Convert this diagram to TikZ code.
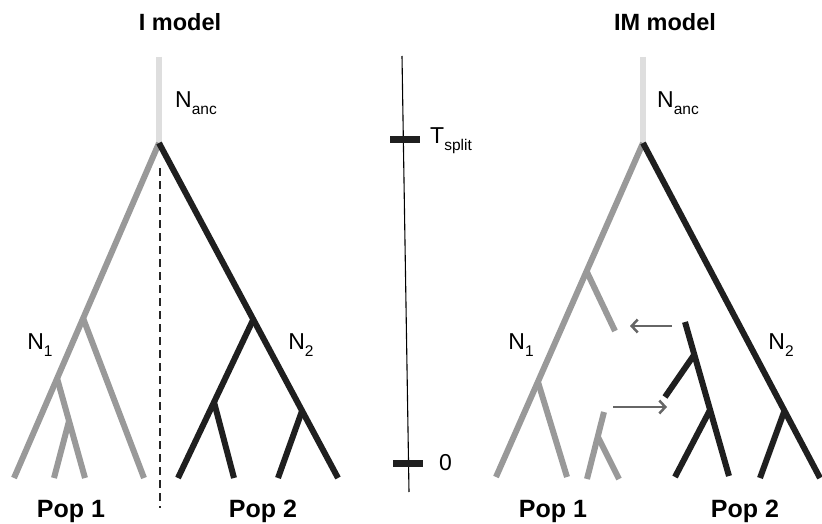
\documentclass[tikz,border=0pt]{standalone}
\usepackage{fontspec}
\setmainfont{Liberation Sans}
\usetikzlibrary{arrows.meta}
\newcommand{\lowtxt}[1]{\raisebox{-0.55ex}{\fontsize{15.5}{16}\selectfont #1}}
\tikzset{
	grey branch/.style={line width=6pt, draw=black!40},
	dark branch/.style={line width=6pt, draw=black!88},
	anc branch/.style={line width=6pt, draw=black!13},
	split line/.style={line width=2.2pt, dash pattern=on 8pt off 5pt, draw=black!85},
	time axis/.style={line width=1.1pt, draw=black},
	tickbar/.style={rectangle, fill=black!88, minimum width=30pt, minimum height=7pt, inner sep=0pt},
	migration/.style={-{Straight Barb[length=6pt,width=13pt]}, line width=2.5pt, draw=black!60},
	title/.style={font=\fontsize{23.5}{27}\selectfont\bfseries, inner sep=0pt},
	pop/.style={font=\fontsize{25}{29}\selectfont\bfseries, inner sep=0pt},
	popsize/.style={font=\fontsize{23}{27}\selectfont, inner sep=0pt}
}

\begin{document}
\begin{tikzpicture}[x=1pt,y=-1pt]
	\useasboundingbox (0,0) rectangle (822,524);

	%% I model
	\coordinate (Itop)   at (159,57);
	\coordinate (Isplit) at (159,143);
	\coordinate (Ia)     at (14,478);
	\coordinate (Ib)     at (54,478);
	\coordinate (Ic)     at (85,478);
	\coordinate (Id)     at (144,478);
	\coordinate (Ie)     at (178,478);
	\coordinate (If)     at (234,478);
	\coordinate (Ig)     at (278,478);
	\coordinate (Ih)     at (338,478);
	\coordinate (Ig1)    at (83,318);
	\coordinate (Ig2)    at (57,378);
	\coordinate (Ig3)    at (69,421);
	\coordinate (Ik1)    at (253,320);
	\coordinate (Ik2)    at (302,411);
	\coordinate (Ik3)    at (214,402);

	\draw[anc branch] (Itop) -- (Isplit);
	\draw[grey branch] (Ig3) -- (Ib);
	\draw[grey branch] (Ig2) -- (Ic);
	\draw[grey branch] (Ig1) -- (Id);
	\draw[grey branch] (Isplit) -- (Ia);
	\draw[dark branch] (Ik3) -- (If);
	\draw[dark branch] (Ik1) -- (Ie);
	\draw[dark branch] (Ik2) -- (Ig);
	\draw[dark branch] (Isplit) -- (Ih);

	\coordinate (Idash1) at (160,168);
	\coordinate (Idash2) at (160,508);
	\draw[split line] (Idash1) -- (Idash2);

	\node[title] (Ititle) at (180,22) {I model};
	\node[popsize, anchor=west] (Ianc) at (175,103) {N\lowtxt{anc}};
	\node[popsize] (IN1) at (40,345) {N\lowtxt{1}};
	\node[popsize] (IN2) at (301,345) {N\lowtxt{2}};
	\node[pop] (Ipop1) at (71,511) {Pop 1};
	\node[pop] (Ipop2) at (263,511) {Pop 2};

	%% time axis
	\coordinate (Ttop) at (402,56);
	\coordinate (Tbot) at (409,492);
	\draw[time axis] (Ttop) -- (Tbot);
	\node[tickbar] (Tsplit) at (405,140) {};
	\node[tickbar] (Tzero)  at (408,463) {};
	\node[popsize, anchor=west] (Tsplitlbl) at (430,141) {T\lowtxt{split}};
	\node[popsize, anchor=west] (Tzerolbl)  at (439,463) {0};

	%% IM model
	\coordinate (Mtop)   at (643,57);
	\coordinate (Msplit) at (643,143);
	\coordinate (Ma)     at (496,477);
	\coordinate (Mb)     at (567,477);
	\coordinate (Mc)     at (615,331);
	\coordinate (Mg1)    at (586,270);
	\coordinate (Mg2)    at (538,382);
	\coordinate (Ms1)    at (604,412);
	\coordinate (Ms2)    at (587,479);
	\coordinate (Ms3)    at (619,479);
	\coordinate (Mg3)    at (598,437);
	\coordinate (Mh)     at (820,478);
	\coordinate (Mi)     at (760,478);
	\coordinate (Mk1)    at (784,412);
	\coordinate (Mt1)    at (685,322);
	\coordinate (Mt2)    at (729,476);
	\coordinate (Mt3)    at (665,397);
	\coordinate (Mt4)    at (675,477);
	\coordinate (Mk2)    at (694,355);
	\coordinate (Mk3)    at (710,410);

	\draw[anc branch] (Mtop) -- (Msplit);
	\draw[grey branch] (Mg1) -- (Mc);
	\draw[grey branch] (Mg2) -- (Mb);
	\draw[grey branch] (Msplit) -- (Ma);
	\draw[grey branch] (Mg3) -- (Ms3);
	\draw[grey branch] (Ms1) -- (Ms2);
	\draw[dark branch] (Mk1) -- (Mi);
	\draw[dark branch] (Msplit) -- (Mh);
	\draw[dark branch] (Mk2) -- (Mt3);
	\draw[dark branch] (Mk3) -- (Mt4);
	\draw[dark branch] (Mt1) -- (Mt2);

	\coordinate (Mfrom1) at (672,326);
	\coordinate (Mto1)   at (630,326);
	\coordinate (Mfrom2) at (613,407);
	\coordinate (Mto2)   at (667,407);
	\draw[migration] (Mfrom1) -- (Mto1);
	\draw[migration] (Mfrom2) -- (Mto2);

	\node[title] (Mtitle) at (665,22) {IM model};
	\node[popsize, anchor=west] (Manc) at (657,103) {N\lowtxt{anc}};
	\node[popsize] (MN1) at (521,345) {N\lowtxt{1}};
	\node[popsize] (MN2) at (781,345) {N\lowtxt{2}};
	\node[pop] (Mpop1) at (553,511) {Pop 1};
	\node[pop] (Mpop2) at (745,511) {Pop 2};

\end{tikzpicture}
\end{document}
